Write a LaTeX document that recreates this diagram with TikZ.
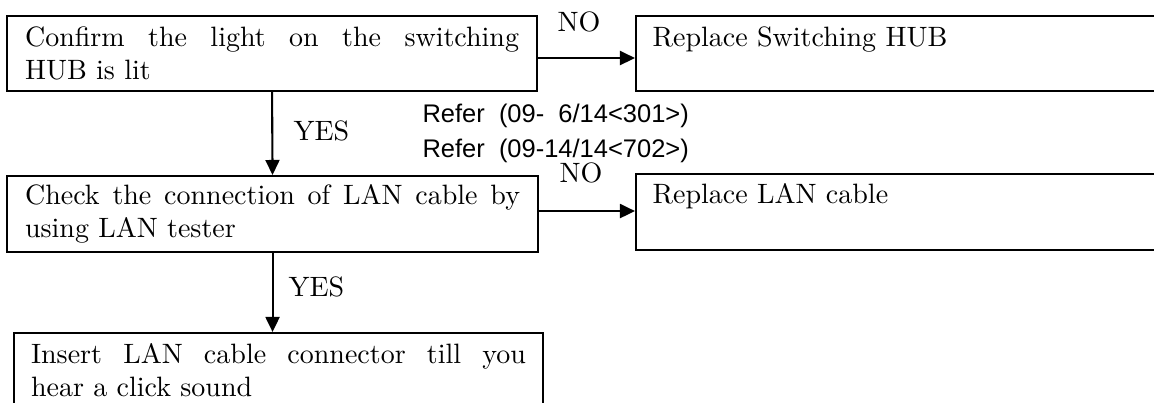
\documentclass[tikz,border=0pt]{standalone}
\usepackage{fontspec}
\newfontfamily\refsans{Liberation Sans}
\usetikzlibrary{arrows.meta}
% one drawing unit
\newdimen\pxu \pxu=0.3571pt
\tikzset{
  box/.style={draw, line width=0.75pt, rectangle, anchor=north west, inner ysep=0pt,
              font=\fontsize{10}{11.8}\selectfont, align=justify},
  plainbox/.style={draw, line width=0.75pt, rectangle, anchor=north west, inner sep=0pt},
  lbl/.style={inner sep=0pt, anchor=base west, font=\fontsize{10}{11.8}\selectfont},
  reflbl/.style={inner sep=0pt, anchor=base west, font=\refsans\fontsize{9.1}{10}\selectfont},
  arr/.style={line width=0.75pt, -{Triangle[length=5.36pt,width=5pt]}}
}
\begin{document}
\begin{tikzpicture}[x=0.3571pt,y=-0.3571pt]
\clip (0,0) rectangle (1154,403);
\fill[white] (0,0) rectangle (1154,403);

% left column: checks
\node[box, text width=494\pxu, inner xsep=18\pxu, minimum height=75\pxu] (b1) at (6,15)
  {Confirm the light on the switching\linebreak HUB is lit};
\node[box, text width=495\pxu, inner xsep=18\pxu, minimum height=76\pxu] (b3) at (6,175)
  {Check the connection of LAN cable by\linebreak using LAN tester};
\node[box, text width=495\pxu, inner xsep=17\pxu, minimum height=75\pxu] (b5) at (13,332)
  {Insert LAN cable connector till you\linebreak hear a click sound};

% right column: replacements
\node[plainbox, minimum width=540\pxu, minimum height=75\pxu] (b2) at (635,15) {};
\node[lbl] (t2) at (652,47) {Replace Switching HUB};
\node[plainbox, minimum width=540\pxu, minimum height=76\pxu] (b4) at (635,173) {};
\node[lbl] (t4) at (652,204) {Replace LAN cable};

% connectors
\draw[arr] ([yshift=-1.6pt]b1.east) coordinate (p1) -- (p1 -| b2.west);
\draw[arr] ([yshift=1.07pt]b3.east) coordinate (p2) -- (p2 -| b4.west);
\draw[arr] (b1.south) -- (b3.north);
\draw[arr] (b3.south) coordinate (p3) -- (p3 |- b5.north);

% branch labels
\node[lbl, anchor=base] (no1) at (579,32) {NO};
\node[lbl, anchor=base] (no2) at (581,183) {NO};
\node[lbl] (yes1) at (293,141) {YES};
\node[lbl] (yes2) at (288,297) {YES};

% references
\node[reflbl] (r1) at (422,123) {Refer\ \ (09-\ \ 6/14<301>)};
\node[reflbl] (r2) at (422,158) {Refer\ \ (09-14/14<702>)};
\end{tikzpicture}
\end{document}
